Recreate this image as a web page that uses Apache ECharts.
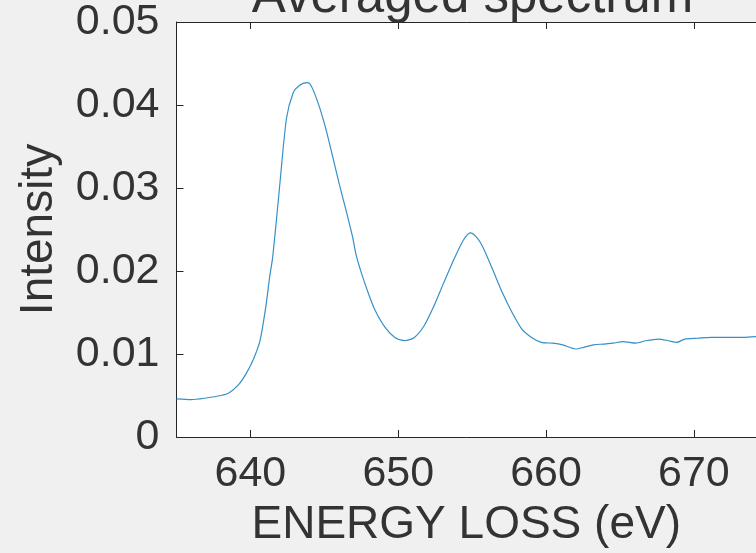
<!DOCTYPE html>
<html>
<head>
<meta charset="utf-8">
<script src="https://cdn.jsdelivr.net/npm/echarts@6/dist/echarts.min.js"></script>
<style>
  html, body { margin: 0; padding: 0; background: #f0f0f0; }
  #chart { width: 756px; height: 553px; }
</style>
</head>
<body>
<div id="chart"></div>
<script>
// Averaged EELS spectrum: energy loss (eV) vs intensity
const energy = [635, 636, 637, 638, 638.54, 639.2, 639.73, 640.19, 640.65,
  641.05, 641.31, 641.51, 641.95, 642.44, 642.9, 643.27, 643.82, 644.0, 644.27,
  644.7, 645.15, 645.59, 646.02, 646.47, 646.91, 647.13, 647.5, 648.0, 648.45,
  649.11, 649.77, 650.43, 651.09, 651.75, 652.42, 653.08, 653.74, 654.4, 654.88,
  655.28, 655.72, 656.38, 657.04, 657.7, 658.36, 659.02, 659.68, 660.46, 661.12,
  662.0, 662.55, 663.21, 663.87, 664.53, 665.19, 666.08, 666.74, 667.62, 668.28,
  668.83, 669.38, 670.26, 671.14, 672.24, 673.3, 674.2];
const intensity = [0.0046, 0.0045, 0.0047, 0.0050, 0.0053, 0.0063, 0.0077, 0.0093, 0.0116,
  0.0158, 0.0194, 0.0217, 0.0297, 0.0384, 0.0415, 0.0423, 0.0427, 0.0426, 0.0417,
  0.0396, 0.0368, 0.0336, 0.0304, 0.0273, 0.0241, 0.0221, 0.0198, 0.0172, 0.0152,
  0.0132, 0.0120, 0.0116, 0.0120, 0.0134, 0.0158, 0.0186, 0.0213, 0.0237, 0.0246,
  0.0241, 0.0229, 0.0202, 0.0174, 0.0150, 0.0130, 0.0120, 0.0114, 0.0113, 0.0111,
  0.0106, 0.0108, 0.0111, 0.0112, 0.0113, 0.0115, 0.0113, 0.0116, 0.0118, 0.0116,
  0.0114, 0.0118, 0.0119, 0.0120, 0.0120, 0.0120, 0.0121];
const xTicks = [640, 650, 660, 670];
const yTicks = [0, 0.01, 0.02, 0.03, 0.04, 0.05];
const titleText = 'Averaged spectrum';
const xLabel = 'ENERGY LOSS (eV)';
const yLabel = 'Intensity';

const ink = '#262626';
const textInk = '#333333';
const fontFamily = '"Liberation Sans", Arial, Helvetica, sans-serif';
const xMin = 635, xMax = 674.2;

const chart = echarts.init(document.getElementById('chart'), null, { renderer: 'canvas' });

const lineStyle = { color: ink, width: 1 };

chart.setOption({
  backgroundColor: '#f0f0f0',
  animation: false,
  grid: {
    left: 176.5, top: 22, width: 593, height: 421,
    show: true, backgroundColor: '#ffffff', borderWidth: 0
  },
  graphic: [{
    type: 'text',
    x: 472.5, y: -2,
    style: {
      text: titleText,
      font: '51px ' + fontFamily,
      fill: textInk,
      textAlign: 'center',
      textVerticalAlign: 'middle'
    },
    z: 100
  }],
  xAxis: [{
    type: 'value',
    min: xMin, max: xMax,
    position: 'bottom',
    name: xLabel,
    nameLocation: 'middle',
    nameGap: 65,
    nameTextStyle: { color: textInk, fontSize: 46, fontFamily: fontFamily },
    axisLine: { show: true, onZero: false, lineStyle: lineStyle },
    axisTick: { show: true, inside: true, length: 7, lineStyle: lineStyle, customValues: xTicks },
    axisLabel: {
      color: textInk, fontSize: 43, fontFamily: fontFamily, margin: 16,
      customValues: xTicks, formatter: v => String(v)
    },
    splitLine: { show: false }
  }, {
    type: 'value',
    min: xMin, max: xMax,
    position: 'top',
    axisLine: { show: true, onZero: false, lineStyle: lineStyle },
    axisTick: { show: true, inside: true, length: 7, lineStyle: lineStyle, customValues: xTicks },
    axisLabel: { show: false },
    splitLine: { show: false }
  }],
  yAxis: [{
    type: 'value',
    min: 0, max: 0.05, interval: 0.01,
    position: 'left',
    name: yLabel,
    nameLocation: 'middle',
    nameGap: 114,
    nameRotate: 90,
    nameTextStyle: { color: textInk, fontSize: 46, fontFamily: fontFamily },
    axisLine: { show: true, onZero: false, lineStyle: lineStyle },
    axisTick: { show: true, inside: true, length: 7, lineStyle: lineStyle },
    axisLabel: {
      color: textInk, fontSize: 43, fontFamily: fontFamily, margin: 17,
      formatter: v => (v === 0 ? '0' : v.toFixed(2))
    },
    splitLine: { show: false }
  }],
  series: [{
    type: 'line',
    data: energy.map((e, i) => [e, intensity[i]]),
    showSymbol: false,
    smooth: 0.25,
    lineStyle: { color: '#3590c8', width: 1.2 },
    clip: true
  }]
});
</script>
</body>
</html>
